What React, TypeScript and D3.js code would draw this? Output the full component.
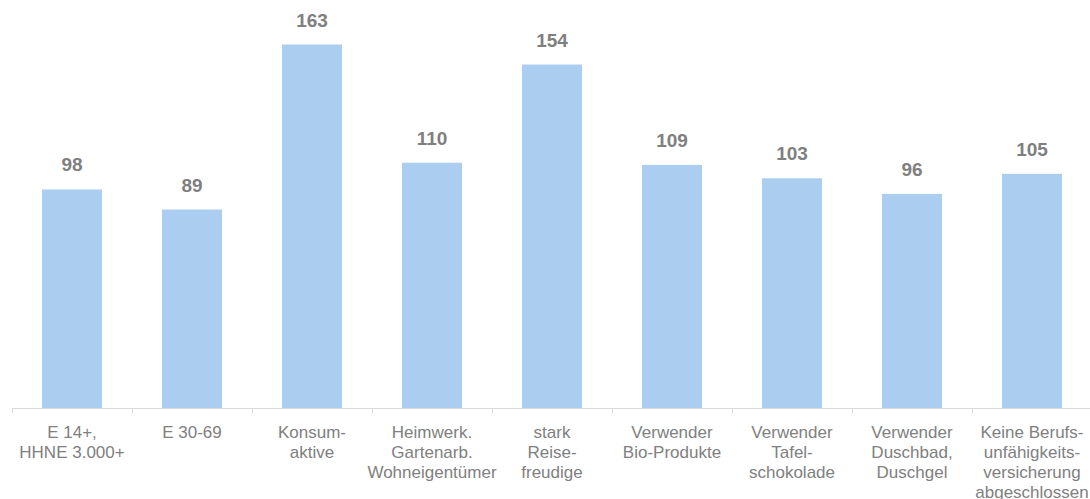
import React from "react";
import * as d3 from "d3";

const categories = [
  ["E 14+,", "HHNE 3.000+"],
  ["E 30-69"],
  ["Konsum-", "aktive"],
  ["Heimwerk.", "Gartenarb.", "Wohneigentümer"],
  ["stark", "Reise-", "freudige"],
  ["Verwender", "Bio-Produkte"],
  ["Verwender", "Tafel-", "schokolade"],
  ["Verwender", "Duschbad,", "Duschgel"],
  ["Keine Berufs-", "unfähigkeits-", "versicherung", "abgeschlossen"],
];
const values = [98, 89, 163, 110, 154, 109, 103, 96, 105];

const width = 1090;
const height = 499;
const baseline = 408;

export default function App() {
  const keys = categories.map((c) => c.join(" "));
  const x = d3
    .scaleBand<string>()
    .domain(keys)
    .range([12, 1092])
    .paddingInner(0.5)
    .paddingOuter(0.25);
  const y = d3
    .scaleLinear()
    .domain([0, d3.max(values) as number])
    .range([baseline, 44.5]);
  const step = x.step();
  const font = "'Liberation Sans', Arial, sans-serif";

  // tick marks sit on the category boundaries
  const tickXs = keys.map((k) => (x(k) as number) - step * 0.25);
  tickXs.push(tickXs[tickXs.length - 1] + step);

  return (
    <svg
      width={width}
      height={height}
      style={{ position: "absolute", left: 0, top: 0, background: "#fff" }}
      fontFamily={font}
    >
      {keys.map((k, i) => (
        <rect
          key={k}
          x={x(k)}
          y={y(values[i])}
          width={x.bandwidth()}
          height={baseline - y(values[i])}
          fill="#aacdf0"
        />
      ))}
      <line x1={12} x2={width} y1={baseline + 0.5} y2={baseline + 0.5} stroke="#d9d9d9" />
      {tickXs.map((t, i) => (
        <line key={i} x1={t + 0.5} x2={t + 0.5} y1={baseline} y2={baseline + 5} stroke="#d9d9d9" />
      ))}
      {keys.map((k, i) => (
        <text
          key={k}
          x={(x(k) as number) + x.bandwidth() / 2}
          y={y(values[i]) - 18}
          textAnchor="middle"
          fontSize={19}
          fontWeight="bold"
          fill="#7f7f7f"
        >
          {values[i]}
        </text>
      ))}
      {categories.map((lines, i) => (
        <text
          key={keys[i]}
          x={(x(keys[i]) as number) + x.bandwidth() / 2}
          y={437.5}
          textAnchor="middle"
          fontSize={17}
          fill="#808080"
        >
          {lines.map((l, j) => (
            <tspan key={j} x={(x(keys[i]) as number) + x.bandwidth() / 2} dy={j === 0 ? 0 : 20}>
              {l}
            </tspan>
          ))}
        </text>
      ))}
    </svg>
  );
}
